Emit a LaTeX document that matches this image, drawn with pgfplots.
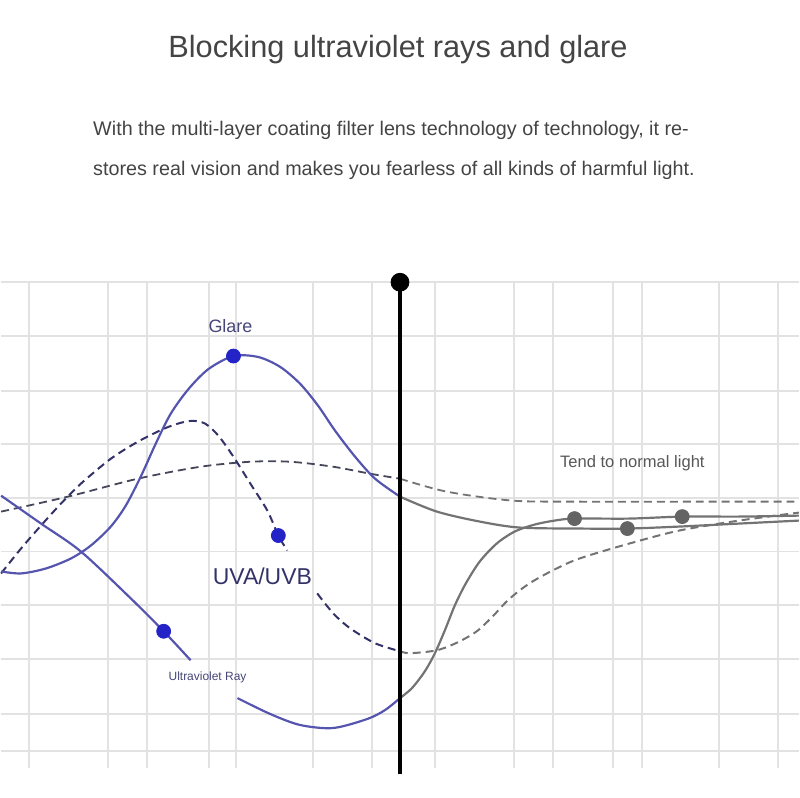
\documentclass[border=0pt]{standalone}
\usepackage{pgfplots}
\pgfplotsset{compat=1.18}
\usepackage{fontspec}
\setmainfont{Liberation Sans}
\definecolor{gridc}{RGB}{226,226,226}
\definecolor{blueline}{RGB}{85,85,175}
\definecolor{navydash}{RGB}{50,50,105}
\definecolor{slatedash}{RGB}{70,70,90}
\definecolor{greyline}{RGB}{115,115,115}
\definecolor{bluedot}{RGB}{35,35,200}
\definecolor{greydot}{RGB}{100,100,100}
\definecolor{labelc}{RGB}{70,70,120}
\definecolor{textc}{RGB}{68,68,68}
\begin{document}
\begin{tikzpicture}
\begin{axis}[
  x=0.5pt, y=0.5pt, y dir=reverse,
  xmin=0, xmax=800, ymin=0, ymax=800,
  hide axis, clip=false,
  unbounded coords=jump,
]
% invisible frame
\addplot[draw=none] coordinates {(0,0) (800,800)};
% grid: vertical lines
\addplot[gridc, line width=1pt] coordinates {
(28,283)(28,770)(28,nan)
(107,283)(107,770)(107,nan)
(146,283)(146,770)(146,nan)
(208,283)(208,770)(208,nan)
(236,283)(236,770)(236,nan)
(313,283)(313,770)(313,nan)
(372,283)(372,770)(372,nan)
(435,283)(435,770)(435,nan)
(514,283)(514,770)(514,nan)
(553,283)(553,770)(553,nan)
(614,283)(614,770)(614,nan)
(643,283)(643,770)(643,nan)
(720,283)(720,770)(720,nan)
(779,283)(779,770)(779,nan)
};
% grid: horizontal lines
\addplot[gridc, line width=1pt] coordinates {
(0,283)(800,283)(nan,283)
(0,337)(800,337)(nan,337)
(0,392)(800,392)(nan,392)
(0,445)(800,445)(nan,445)
(0,499)(800,499)(nan,499)
(0,553)(800,553)(nan,553)
(0,607)(800,607)(nan,607)
(0,661)(800,661)(nan,661)
(0,716)(800,716)(nan,716)
(0,753)(800,753)(nan,753)
};
% long dashed baseline (left, slate)
\addplot[slatedash, line width=0.9pt, dash pattern=on 4pt off 2.5pt, smooth] coordinates {
(0,513)(67,498)(137,480)(200,468)(250,463)(290,463)(333,468)(370,475)(400,480)};
% long dashed baseline (right, grey)
\addplot[greyline, line width=0.9pt, dash pattern=on 4pt off 2.5pt, smooth] coordinates {
(400,480)(447,493)(513,502)(580,503)(700,503)(800,503)};
% UVA/UVB dashed (navy)
\addplot[navydash, line width=1pt, dash pattern=on 4pt off 2.5pt, smooth] coordinates {
(0,575)(20,550)(40,527)(60,505)(80,485)(110,460)(137,443)(163,430)(180,424)(193,422)(205,425)(218,437)(233,458)(250,485)(267,512)(278,537)(287,552)};
\addplot[navydash, line width=1pt, dash pattern=on 4pt off 2.5pt, smooth] coordinates {
(317,595)(333,615)(350,630)(375,645)(400,653)};
% UVA/UVB continuation (grey dashed)
\addplot[greyline, line width=1pt, dash pattern=on 4pt off 2.5pt, smooth] coordinates {
(400,653)(410,655)(437,652)(458,644)(477,633)(493,618)(507,603)(520,592)(533,583)(555,571)(580,560)(630,545)(680,532)(740,522)(800,514)};
% Glare (blue)
\addplot[blueline, line width=1.1pt, smooth] coordinates {
(0,573)(20,575)(45,570)(70,560)(90,547)(110,528)(125,507)(140,478)(155,445)(170,415)(188,390)(208,370)(233,357)(258,358)(280,368)(300,385)(318,407)(335,432)(355,458)(375,480)(400,498)};
% Glare continuation (grey)
\addplot[greyline, line width=1.1pt, smooth] coordinates {
(400,498)(437,513)(480,523)(520,529)(580,530)(628,530)(680,528)(740,525)(800,522)};
% Ultraviolet Ray (blue)
\addplot[blueline, line width=1.1pt, smooth] coordinates {
(0,497)(40,525)(80,553)(130,600)(163,633)(190,662)};
\addplot[blueline, line width=1.1pt, smooth] coordinates {
(237,700)(270,716)(300,727)(333,730)(367,721)(385,712)(400,700)};
% Ultraviolet Ray continuation (grey)
\addplot[greyline, line width=1.1pt, smooth] coordinates {
(400,700)(412,690)(425,673)(435,655)(445,632)(455,607)(466,585)(480,563)(497,545)(515,533)(535,526)(555,522)(575,520)(630,520)(683,518)(740,518)(800,517)};
% black divider
\addplot[black, line width=2pt] coordinates {(400,283)(400,776)};
\addplot[only marks, mark=*, mark size=4.5pt, black] coordinates {(400,283)};
% dots
\addplot[only marks, mark=*, mark size=3.5pt, bluedot] coordinates {(233,357)(278,537)(163,633)};
\addplot[only marks, mark=*, mark size=3.5pt, greydot] coordinates {(575,520)(628,530)(683,518)};
% labels
\node[text=labelc, font=\fontsize{9}{10}\selectfont] at (axis cs:230,327) {Glare};
\node[text=navydash, font=\fontsize{11.5}{12}\selectfont] at (axis cs:262,578) {UVA/UVB};
\node[text=labelc, font=\fontsize{6}{7}\selectfont] at (axis cs:207,679) {Ultraviolet Ray};
\node[text=textc!90, font=\fontsize{8.3}{9}\selectfont] at (axis cs:633,464) {Tend to normal light};
% title and paragraph
\node[text=textc, font=\fontsize{15.4}{17}\selectfont] at (axis cs:398,50) {Blocking ultraviolet rays and glare};
\node[text=textc, font=\fontsize{9.9}{11}\selectfont, anchor=west, inner sep=0pt] at (axis cs:92,131) {With the multi-layer coating filter lens technology of technology, it re-};
\node[text=textc, font=\fontsize{9.9}{11}\selectfont, anchor=west, inner sep=0pt] at (axis cs:92,171) {stores real vision and makes you fearless of all kinds of harmful light.};
\end{axis}
\end{tikzpicture}
\end{document}
